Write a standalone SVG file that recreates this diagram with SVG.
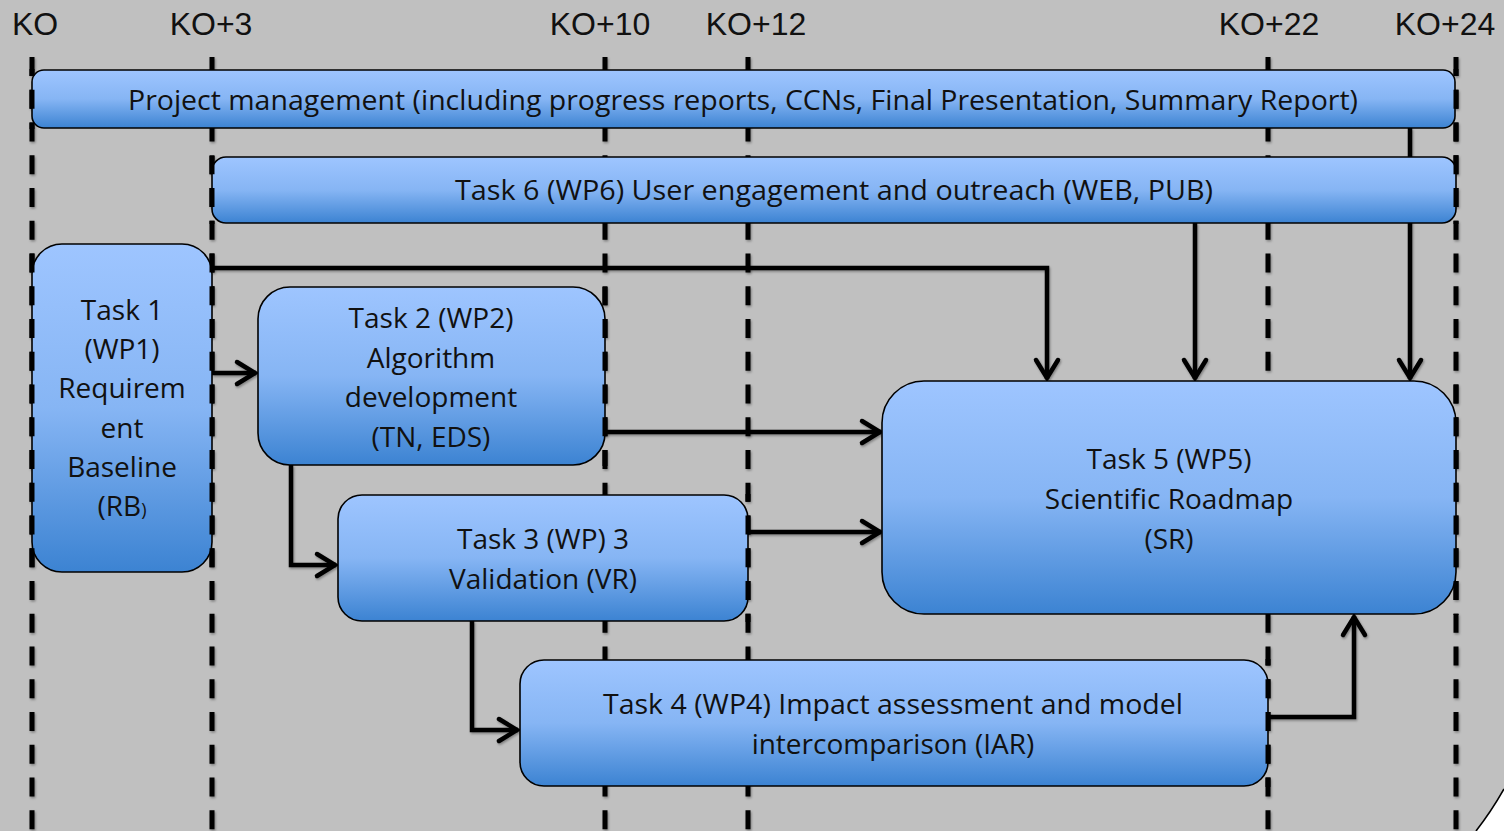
<svg xmlns="http://www.w3.org/2000/svg" width="1504" height="831" viewBox="0 0 1504 831">
<defs>
<style>
.lbl{font-family:"Liberation Sans",Arial,sans-serif;font-size:32px;fill:#111;text-anchor:middle}
.t{font-family:"Open Sans","Noto Sans",sans-serif;font-size:28px;fill:#111;text-anchor:middle}
.box{fill:url(#g);stroke:#000;stroke-width:1.6}
.dash{stroke:#000;stroke-width:5;stroke-dasharray:19 13.75;fill:none}
.con{stroke:#000;stroke-width:4.5;fill:none;marker-end:url(#ah)}
</style>
<linearGradient id="g" x1="0" y1="0" x2="0" y2="1">
<stop offset="0" stop-color="#9EC5FF"/>
<stop offset="0.5" stop-color="#86B5F4"/>
<stop offset="1" stop-color="#3C83D2"/>
</linearGradient>
<filter id="sh" x="-20%" y="-20%" width="140%" height="140%">
<feDropShadow dx="1" dy="1.5" stdDeviation="1.2" flood-color="#000" flood-opacity="0.35"/>
</filter>
<marker id="ah" markerUnits="userSpaceOnUse" markerWidth="30" markerHeight="30" viewBox="-24 -15 28 30" refX="0" refY="0" orient="auto">
<path d="M-19,-11 L-1,0 L-19,11" fill="none" stroke="#000" stroke-width="4.5" stroke-linecap="round" stroke-linejoin="miter"/>
</marker>
<clipPath id="edges">
<rect x="28" y="69" width="7" height="60"/>
<rect x="28" y="243" width="7" height="330"/>
<rect x="209" y="243" width="7" height="330"/>
<rect x="209" y="156" width="7" height="68"/>
<rect x="602" y="287" width="7" height="179"/>
<rect x="745" y="494" width="7" height="128"/>
<rect x="1265" y="659" width="7" height="128"/>
<rect x="1453" y="69" width="7" height="155"/>
<rect x="1453" y="380" width="7" height="235"/>
</clipPath>
</defs>
<rect x="0" y="0" width="1504" height="831" fill="#C0C0C0"/>
<path d="M1476,831 Q1491,812 1504,789 L1504,831 Z" fill="#FFFFFF"/>
<path d="M1476,831 Q1491,812 1504,789" fill="none" stroke="#000" stroke-width="1.6"/>

<g id="timeline-labels">
<text class="lbl" x="35" y="35">KO</text>
<text class="lbl" x="211" y="35">KO+3</text>
<text class="lbl" x="600" y="35">KO+10</text>
<text class="lbl" x="756" y="35">KO+12</text>
<text class="lbl" x="1269" y="35">KO+22</text>
<text class="lbl" x="1445" y="35">KO+24</text>
</g>

<g id="timeline-lines" filter="url(#sh)">
<line class="dash" x1="32" y1="57" x2="32" y2="831"/>
<line class="dash" x1="212" y1="57" x2="212" y2="831"/>
<line class="dash" x1="605" y1="57" x2="605" y2="831"/>
<line class="dash" x1="748" y1="57" x2="748" y2="831"/>
<line class="dash" x1="1268" y1="57" x2="1268" y2="831"/>
<line class="dash" x1="1456" y1="57" x2="1456" y2="831"/>
</g>

<g id="connectors" filter="url(#sh)">
<polyline class="con" points="212,268 1047,268 1047,379"/>
<line class="con" x1="212" y1="373" x2="256" y2="373"/>
<line class="con" x1="605" y1="432" x2="881" y2="432"/>
<polyline class="con" points="291,465 291,565 336,565"/>
<line class="con" x1="748" y1="532" x2="881" y2="532"/>
<polyline class="con" points="472,621 472,730 518,730"/>
<polyline class="con" points="1268,717 1354,717 1354,616"/>
<line class="con" x1="1195" y1="223" x2="1195" y2="379"/>
<line class="con" x1="1410" y1="128" x2="1410" y2="379"/>
</g>

<g id="pm">
<rect class="box" x="32" y="70" width="1423" height="58" rx="12"/>
<text class="t" x="743" y="110" textLength="1230" lengthAdjust="spacingAndGlyphs">Project management (including progress reports, CCNs, Final Presentation, Summary Report)</text>
</g>
<g id="task6">
<rect class="box" x="212" y="157" width="1244" height="66" rx="14"/>
<text class="t" x="834" y="200" textLength="758" lengthAdjust="spacingAndGlyphs">Task 6 (WP6) User engagement and outreach (WEB, PUB)</text>
</g>
<g id="task1">
<rect class="box" x="32" y="244" width="180" height="328" rx="30"/>
<text class="t" x="122" y="320">Task 1</text>
<text class="t" x="122" y="359">(WP1)</text>
<text class="t" x="122" y="398">Requirem</text>
<text class="t" x="122" y="438">ent</text>
<text class="t" x="122" y="477">Baseline</text>
<text class="t" x="122" y="516">(RB<tspan font-size="18">)</tspan></text>
</g>
<g id="task2">
<rect class="box" x="258" y="287" width="347" height="178" rx="32"/>
<text class="t" x="431" y="328">Task 2 (WP2)</text>
<text class="t" x="431" y="368">Algorithm</text>
<text class="t" x="431" y="407">development</text>
<text class="t" x="431" y="447">(TN, EDS)</text>
</g>
<g id="task3">
<rect class="box" x="338" y="495" width="410" height="126" rx="24"/>
<text class="t" x="543" y="549">Task 3 (WP) 3</text>
<text class="t" x="543" y="589">Validation (VR)</text>
</g>
<g id="task4">
<rect class="box" x="520" y="660" width="748" height="126" rx="24"/>
<text class="t" x="893" y="714" textLength="580" lengthAdjust="spacingAndGlyphs">Task 4 (WP4) Impact assessment and model</text>
<text class="t" x="893" y="754">intercomparison (IAR)</text>
</g>
<g id="task5">
<rect class="box" x="882" y="381" width="574" height="233" rx="42"/>
<text class="t" x="1169" y="469">Task 5 (WP5)</text>
<text class="t" x="1169" y="509">Scientific Roadmap</text>
<text class="t" x="1169" y="549">(SR)</text>
</g>

<g id="timeline-edges" clip-path="url(#edges)">
<line class="dash" x1="32" y1="57" x2="32" y2="831"/>
<line class="dash" x1="212" y1="57" x2="212" y2="831"/>
<line class="dash" x1="605" y1="57" x2="605" y2="831"/>
<line class="dash" x1="748" y1="57" x2="748" y2="831"/>
<line class="dash" x1="1268" y1="57" x2="1268" y2="831"/>
<line class="dash" x1="1456" y1="57" x2="1456" y2="831"/>
</g>
</svg>
